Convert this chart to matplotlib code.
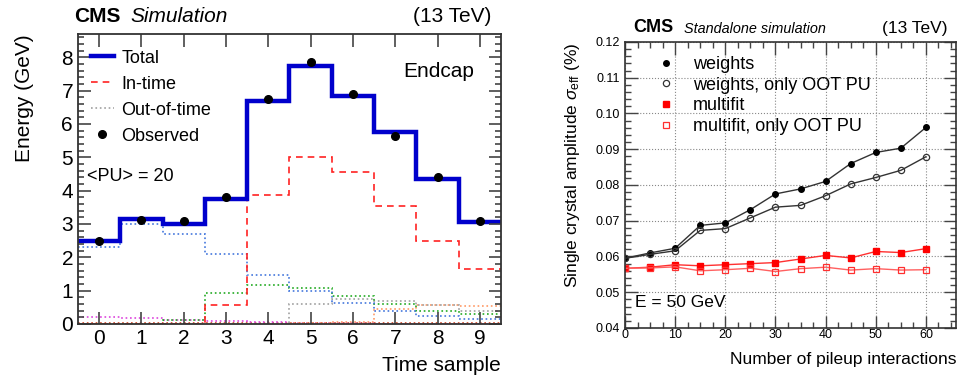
import numpy as np
import matplotlib
matplotlib.use('Agg')
from matplotlib import pyplot as plt
from matplotlib.lines import Line2D
from matplotlib.ticker import MultipleLocator, FormatStrFormatter

plt.rcParams['font.family'] = ['Liberation Sans', 'DejaVu Sans']
plt.rcParams['mathtext.fontset'] = 'custom'
plt.rcParams['mathtext.rm'] = 'Liberation Sans'
plt.rcParams['mathtext.it'] = 'Liberation Sans:italic'

# left panel: pulse in time samples
samples = np.arange(10)
total = [2.5, 3.15, 3.0, 3.75, 6.7, 7.75, 6.85, 5.75, 4.35, 3.05]
observed = [2.5, 3.12, 3.1, 3.8, 6.75, 7.85, 6.9, 5.65, 4.4, 3.1]
in_time = [0.0, 0.0, 0.0, 0.58, 3.88, 5.02, 4.55, 3.55, 2.5, 1.65]
oot_blue = [2.3, 3.0, 2.7, 2.1, 1.48, 1.0, 0.62, 0.4, 0.25, 0.15]
oot_green = [0.0, 0.0, 0.12, 0.92, 1.18, 1.08, 0.84, 0.6, 0.38, 0.3]
oot_gray = [0.0, 0.0, 0.0, 0.0, 0.0, 0.6, 0.75, 0.7, 0.56, 0.38]
oot_orange = [0.0, 0.0, 0.0, 0.0, 0.0, 0.02, 0.05, 0.46, 0.56, 0.55]
oot_magenta = [0.2, 0.17, 0.12, 0.08, 0.06, 0.04, 0.02, 0.01, 0.01, 0.01]
oot_red = [0.02] * 10

# right panel: resolution vs pileup
pileup = [0, 5, 10, 15, 20, 25, 30, 35, 40, 45, 50, 55, 60]
weights = [0.0595, 0.0610, 0.0623, 0.0687, 0.0694, 0.0731, 0.0775, 0.0789,
           0.0810, 0.0860, 0.0891, 0.0903, 0.0961]
weights_oot = [0.0595, 0.0606, 0.0616, 0.0673, 0.0678, 0.0708, 0.0738, 0.0743,
               0.0770, 0.0803, 0.0821, 0.0841, 0.0879]
multifit = [0.0567, 0.0570, 0.0577, 0.0574, 0.0577, 0.0580, 0.0583, 0.0593,
            0.0603, 0.0596, 0.0614, 0.0611, 0.0622]
multifit_oot = [0.0567, 0.0568, 0.0571, 0.0560, 0.0563, 0.0567, 0.0558, 0.0566,
                0.0570, 0.0562, 0.0566, 0.0562, 0.0563]

fig = plt.figure(figsize=(9.59, 3.78), dpi=100)

# ---- left
ax = fig.add_axes([0.0813, 0.1429, 0.4411, 0.7672])
edges = np.arange(11) - 0.5
ax.stairs(oot_red, edges, baseline=None, color='#d04020', ls=':', lw=1.2)
ax.stairs(oot_magenta, edges, baseline=None, color='#dd44dd', ls=':', lw=1.2)
ax.stairs(oot_orange, edges, baseline=None, color='#ff9a66', ls=':', lw=1.2)
ax.stairs(oot_gray, edges, baseline=None, color='#a0a0a0', ls=':', lw=1.2)
ax.stairs(oot_green, edges, baseline=None, color='#22aa22', ls=':', lw=1.2)
ax.stairs(oot_blue, edges, baseline=None, color='#4477dd', ls=':', lw=1.2)
ax.stairs(in_time, edges, baseline=None, color='#ff2222', ls=(0, (4, 3)), lw=1.2)
ax.stairs(total, edges, baseline=None, color='#0000cc', lw=3.2)
ax.plot(samples, observed, 'o', color='black', ms=5.5)

ax.set_xlim(-0.5, 9.5)
ax.set_ylim(0, 8.7)
ax.set_xticks(samples)
ax.yaxis.set_major_locator(MultipleLocator(1))
ax.yaxis.set_minor_locator(MultipleLocator(0.2))
ax.tick_params(which='both', direction='in', top=True, right=True, labelsize=15, width=1.2, color='#444444')
ax.tick_params(which='major', length=9)
ax.tick_params(which='minor', length=4.5)
for s in ax.spines.values():
    s.set_linewidth(1.3)
    s.set_color('#333333')
ax.set_ylabel('Energy (GeV)', fontsize=15, loc='top', labelpad=20)
ax.set_xlabel('Time sample', fontsize=15, loc='right', labelpad=6)

handles = [Line2D([], [], color='#0000cc', lw=3.2),
           Line2D([], [], color='#ff2222', ls=(0, (4, 3)), lw=1.2),
           Line2D([], [], color='#a0a0a0', ls=':', lw=1.2),
           Line2D([], [], color='black', marker='o', ls='none', ms=5.5)]
ax.legend(handles, ['Total', 'In-time', 'Out-of-time', 'Observed'], loc='upper left',
          bbox_to_anchor=(0.0, 0.99), frameon=False, fontsize=13, handlelength=1.3,
          handletextpad=0.4, labelspacing=0.5, borderaxespad=0.3)
ax.text(0.77, 0.87, 'Endcap', transform=ax.transAxes, fontsize=15, va='center')
ax.text(0.022, 0.51, '<PU> = 20', transform=ax.transAxes, fontsize=13, va='center')
fig.text(74 / 959, 1 - 17 / 378, 'CMS', fontsize=15, fontweight='bold', va='center')
fig.text(130 / 959, 1 - 17 / 378, 'Simulation', fontsize=15, style='italic', va='center')
fig.text(491 / 959, 1 - 17 / 378, '(13 TeV)', fontsize=15, ha='right', va='center')

# ---- right
ax2 = fig.add_axes([0.6517, 0.1323, 0.3452, 0.7566])
ax2.plot(pileup, weights, '-', color='#333333', lw=1.0)
ax2.plot(pileup, weights, 'o', color='black', ms=4)
ax2.plot(pileup, weights_oot, '-', color='#333333', lw=1.0)
ax2.plot(pileup, weights_oot, 'o', mfc='none', mec='#333333', ms=4.5, mew=0.9)
ax2.plot(pileup, multifit, '-', color='#ff3030', lw=1.0)
ax2.plot(pileup, multifit, 's', color='#ff0000', ms=4.5)
ax2.plot(pileup, multifit_oot, '-', color='#ff6060', lw=1.0)
ax2.plot(pileup, multifit_oot, 's', mfc='none', mec='#ff3030', ms=4.5, mew=0.9)

ax2.set_xlim(0, 66)
ax2.set_ylim(0.04, 0.12)
ax2.xaxis.set_major_locator(MultipleLocator(10))
ax2.xaxis.set_minor_locator(MultipleLocator(2.5))
ax2.yaxis.set_major_locator(MultipleLocator(0.01))
ax2.yaxis.set_minor_locator(MultipleLocator(0.002))
ax2.yaxis.set_major_formatter(FormatStrFormatter('%.2f'))
ax2.grid(True, which='major', ls=':', color='#888888', lw=0.8)
ax2.tick_params(which='both', direction='in', top=True, right=True, labelsize=9, width=1.0, color='#444444')
ax2.tick_params(which='major', length=9)
ax2.tick_params(which='minor', length=4.5)
ax2.tick_params(axis='x', pad=1)
for s in ax2.spines.values():
    s.set_linewidth(1.2)
    s.set_color('#333333')
ax2.set_ylabel(r'Single crystal amplitude $\sigma_{\rm eff}$ (%)', fontsize=12.5, loc='top', labelpad=10)
ax2.set_xlabel('Number of pileup interactions', fontsize=12.5, loc='right', labelpad=8)

handles2 = [Line2D([], [], color='black', marker='o', ls='none', ms=4),
            Line2D([], [], marker='o', mfc='none', mec='#333333', ls='none', ms=4.5, mew=0.9),
            Line2D([], [], color='#ff0000', marker='s', ls='none', ms=4.5),
            Line2D([], [], marker='s', mfc='none', mec='#ff3030', ls='none', ms=4.5, mew=0.9)]
ax2.legend(handles2, ['weights', 'weights, only OOT PU', 'multifit', 'multifit, only OOT PU'],
           loc='upper left', bbox_to_anchor=(0.045, 0.995), frameon=False, fontsize=13,
           handlelength=1.5, handletextpad=0.75, labelspacing=0.2, borderaxespad=0.3)
ax2.text(0.03, 0.09, 'E = 50 GeV', transform=ax2.transAxes, fontsize=12.5, va='center')
fig.text(633 / 959, 1 - 28 / 378, 'CMS', fontsize=13, fontweight='bold', va='center')
fig.text(684 / 959, 1 - 29 / 378, 'Standalone simulation', fontsize=10.4, style='italic', va='center')
fig.text(947 / 959, 1 - 28 / 378, '(13 TeV)', fontsize=12.5, ha='right', va='center')

fig.savefig('out.png', dpi=100)
